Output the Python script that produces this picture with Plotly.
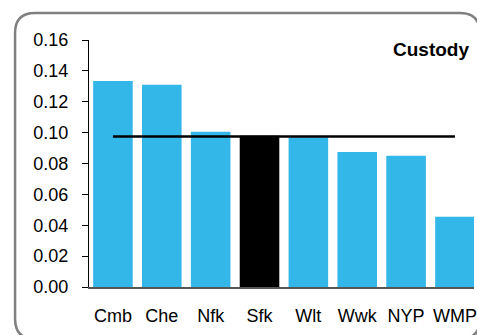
import plotly.graph_objects as go

categories = ["Cmb", "Che", "Nfk", "Sfk", "Wlt", "Wwk", "NYP", "WMP"]
values = [0.1335, 0.131, 0.1005, 0.098, 0.097, 0.0875, 0.085, 0.0455]
average = [0.0975] * len(categories)
highlight = "Sfk"
y_ticks = [0.00, 0.02, 0.04, 0.06, 0.08, 0.10, 0.12, 0.14, 0.16]
title_text = "Custody"

W, H = 477, 335
L, R, T, B = 89, 0, 40, 48
pw, ph = W - L - R, H - T - B

def px(x):
    return (x - L) / pw

def py(y):
    return (H - B - y) / ph

colors = ["#000000" if c == highlight else "#32B7E8" for c in categories]

fig = go.Figure()
fig.add_trace(go.Bar(x=categories, y=values, marker=dict(color=colors, line=dict(width=0)),
                     width=0.81, showlegend=False, hoverinfo="skip"))
fig.add_trace(go.Scatter(x=categories, y=average, mode="lines",
                         line=dict(color="#000000", width=2.6), showlegend=False, hoverinfo="skip"))

# rounded frame
x0, y0, x1, y1, r = 14.5, 13, 483, 339, 20
path = (f"M {px(x0)},{py(y0 + r)} Q {px(x0)},{py(y0)} {px(x0 + r)},{py(y0)} "
        f"L {px(x1 - r)},{py(y0)} Q {px(x1)},{py(y0)} {px(x1)},{py(y0 + r)} "
        f"L {px(x1)},{py(y1 - r)} Q {px(x1)},{py(y1)} {px(x1 - r)},{py(y1)} "
        f"L {px(x0 + r)},{py(y1)} Q {px(x0)},{py(y1)} {px(x0)},{py(y1 - r)} Z")

fig.update_layout(
    width=W, height=H,
    margin=dict(l=L, r=R, t=T, b=B, pad=0),
    paper_bgcolor="white", plot_bgcolor="white",
    font=dict(family="Liberation Sans, Arial, sans-serif", color="#000000"),
    bargap=0.19,
    shapes=[dict(type="path", xref="paper", yref="paper", path=path,
                 line=dict(color="#808080", width=2.5), layer="below")],
    annotations=[dict(text=f"<b>{title_text}</b>", xref="paper", yref="paper",
                      x=px(393), y=py(49), xanchor="left", yanchor="middle",
                      showarrow=False, font=dict(size=19, color="#000000"))],
    xaxis=dict(range=[-0.49, 7.39], showgrid=False, zeroline=False,
               showline=True, linecolor="#555555", linewidth=1.5,
               ticks="", tickfont=dict(size=18), ticklabelstandoff=12, fixedrange=True),
    yaxis=dict(range=[0, 0.16], tickvals=y_ticks, tickformat=".2f", showgrid=False,
               zeroline=False, showline=True, linecolor="#000000", linewidth=1,
               ticks="outside", ticklen=6, tickcolor="#000000",
               tickfont=dict(size=18), ticklabelstandoff=10, fixedrange=True),
)

fig.write_html("out.html", config={"displayModeBar": False},
               post_script="document.body.style.margin='0';document.body.style.overflow='hidden';"
                           "document.documentElement.style.overflow='hidden';")
